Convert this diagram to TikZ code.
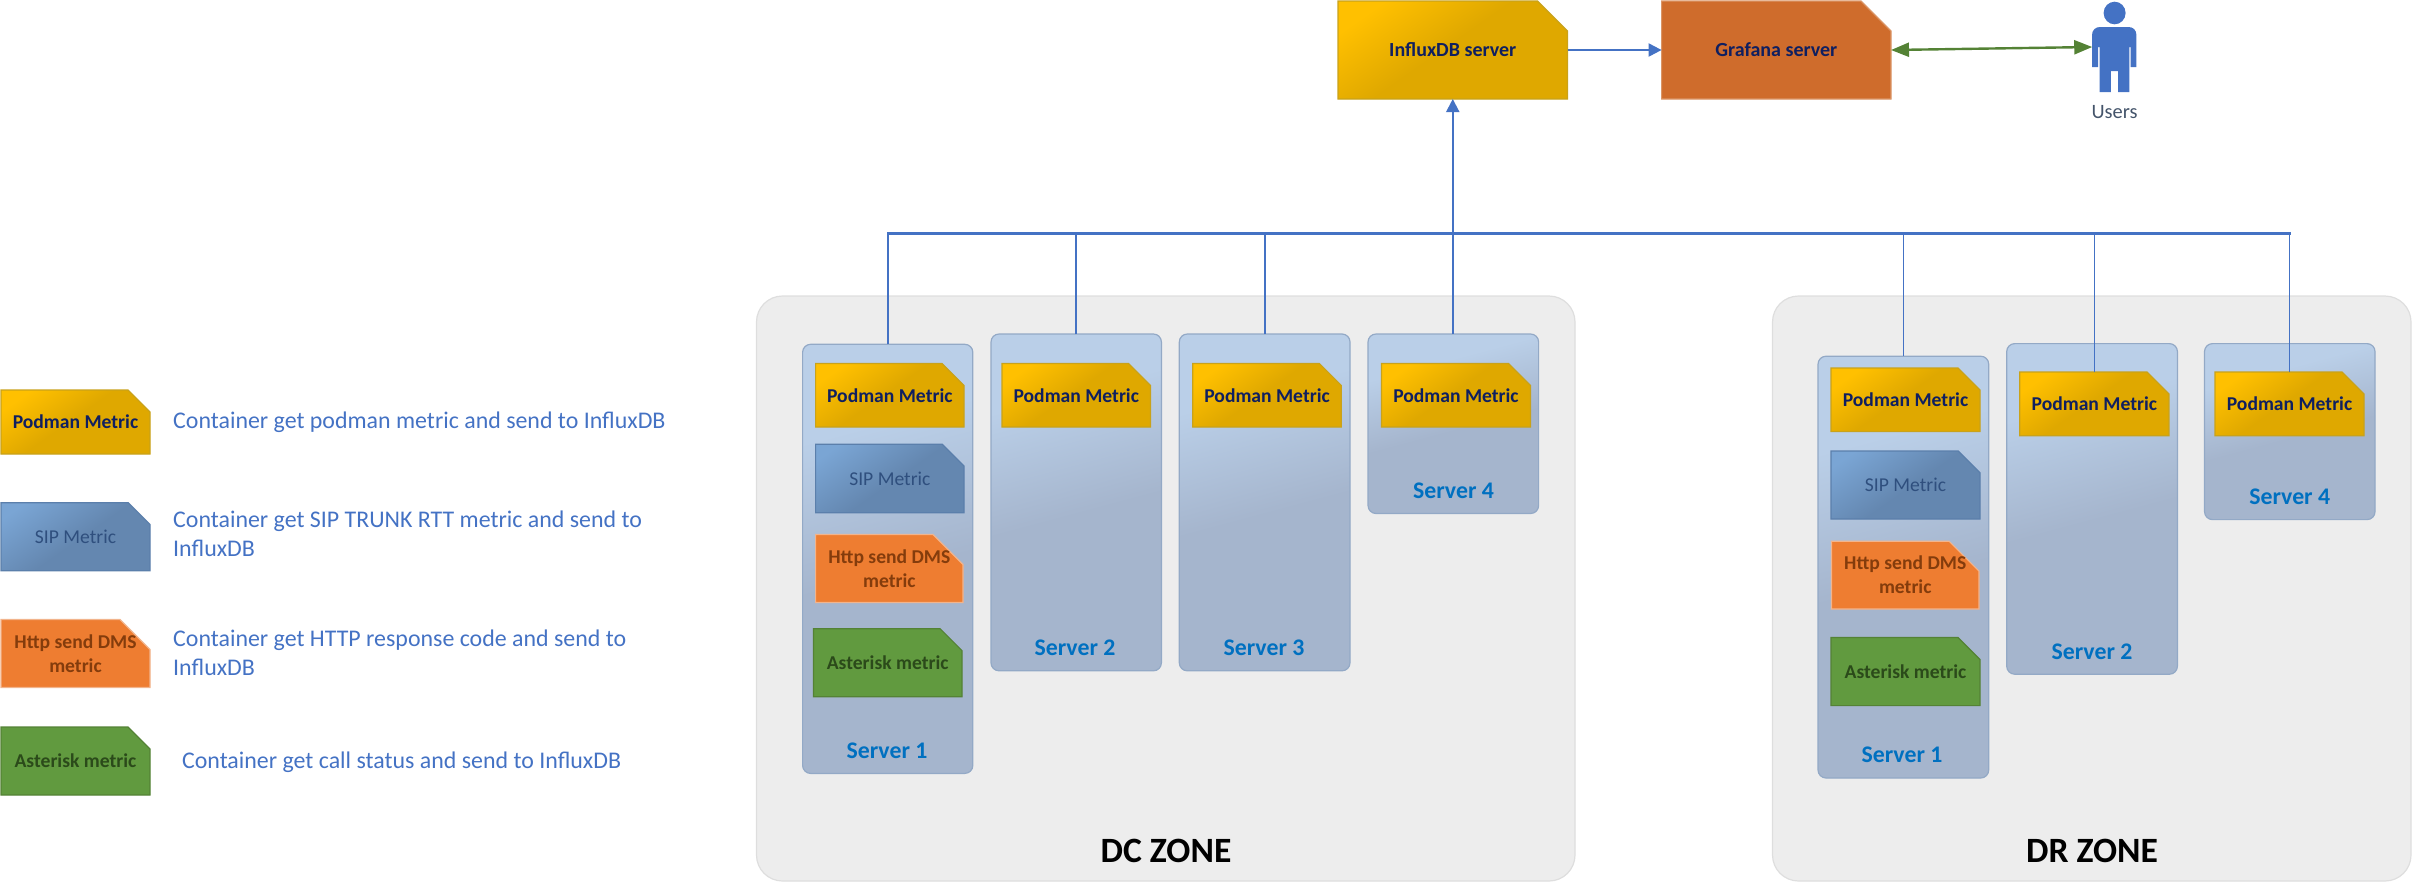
\documentclass[tikz,border=0pt]{standalone}
\usepackage{fontspec}
\setmainfont{Carlito}
\usetikzlibrary{shapes.misc,arrows.meta}
\definecolor{goldA}{HTML}{FFC000}\definecolor{goldB}{HTML}{DFA800}\definecolor{goldL}{HTML}{C9A21A}
\definecolor{sipA}{HTML}{7AA5D4}\definecolor{sipB}{HTML}{6487B0}\definecolor{sipL}{HTML}{5B7FAB}
\definecolor{srvA}{HTML}{BACFE8}\definecolor{srvB}{HTML}{A5B5CD}\definecolor{srvL}{HTML}{93A9C6}
\definecolor{orangeF}{HTML}{EE7D31}\definecolor{orangeL}{HTML}{F2B48C}
\definecolor{greenF}{HTML}{619A3F}\definecolor{greenL}{HTML}{548235}
\definecolor{grafF}{HTML}{CF6C2C}\definecolor{grafL}{HTML}{DB9566}
\definecolor{zoneF}{HTML}{EDEDED}\definecolor{zoneL}{HTML}{DEDEDE}
\definecolor{link}{HTML}{4472C4}\definecolor{duplex}{HTML}{548235}
\definecolor{navy}{HTML}{0F1F60}\definecolor{sipT}{HTML}{2F4F7E}\definecolor{httpT}{HTML}{843C0C}\definecolor{astT}{HTML}{2B4A1A}
\definecolor{srvT}{HTML}{0070C0}\definecolor{userT}{HTML}{44546A}
\pgfdeclareverticalshading{goldsh}{100bp}{color(0bp)=(goldB); color(52bp)=(goldB); color(76bp)=(goldA); color(100bp)=(goldA)}
\pgfdeclareverticalshading{sipsh}{100bp}{color(0bp)=(sipB); color(48bp)=(sipB); color(78bp)=(sipA); color(100bp)=(sipA)}
\pgfdeclareverticalshading{srvsh}{100bp}{color(0bp)=(srvB); color(48bp)=(srvB); color(68bp)=(srvA); color(100bp)=(srvA)}
\tikzset{
  base/.style={chamfered rectangle,chamfered rectangle corners=north east,chamfered rectangle xsep=7.5pt,chamfered rectangle ysep=7.5pt,inner sep=0pt,outer sep=0pt,line width=.6pt,align=center,font=\fontsize{9.8}{12}\selectfont},
  podman/.style={base,draw=goldL,shading=goldsh,shading angle=35,text=navy,font=\fontsize{9.8}{12}\selectfont\bfseries},
  sipm/.style={base,draw=sipL,shading=sipsh,shading angle=35,text=sipT},
  httpm/.style={base,draw=orangeL,fill=orangeF,text=httpT,font=\fontsize{9.8}{12}\selectfont\bfseries},
  astm/.style={base,draw=greenL,fill=greenF,text=astT,font=\fontsize{9.8}{12}\selectfont\bfseries},
  influxm/.style={podman,chamfered rectangle xsep=11pt,chamfered rectangle ysep=11.5pt,font=\fontsize{10}{12}\selectfont\bfseries},
  grafm/.style={base,draw=grafL,fill=grafF,text=navy,chamfered rectangle xsep=11pt,chamfered rectangle ysep=11.5pt,font=\fontsize{10}{12}\selectfont\bfseries},
  srv/.style={rectangle,rounded corners=4pt,draw=srvL,line width=.6pt,shading=srvsh,shading angle=15,inner sep=0pt,outer sep=0pt},
  zone/.style={rectangle,rounded corners=13pt,draw=zoneL,fill=zoneF,line width=.6pt,inner sep=0pt,outer sep=0pt},
  srvlabel/.style={text=srvT,font=\fontsize{11.9}{14}\selectfont\bfseries,inner sep=0pt},
  zonelabel/.style={text=black,font=\fontsize{17.8}{20}\selectfont\bfseries,inner sep=0pt},
  legendtext/.style={text=link,anchor=west,align=left,inner sep=0pt,font=\fontsize{11.95}{14.3}\selectfont},
  userlabel/.style={text=userT,inner sep=0pt,font=\fontsize{10.2}{12}\selectfont},
  wire/.style={draw=link,line width=.85pt},
  busline/.style={draw=link,line width=1.1pt,line cap=rect},
  flow/.style={draw=link,line width=1pt,-{Triangle[length=6.5pt,width=6.5pt]}},
  duplexline/.style={draw=duplex,line width=1.2pt,{Triangle[length=9pt,width=7pt]}-{Triangle[length=9pt,width=7pt]}},
}
% #1 style, #2 name, #3 x1, #4 y1, #5 x2, #6 y2, #7 text
\newcommand{\placebox}[7]{\node[#1,minimum width={(#5-#3)*0.5pt},minimum height={(#6-#4)*0.5pt}] (#2) at ({(#3+#5)/2},{(#4+#6)/2}) {#7};}
\newcommand{\httptext}{\makebox[0pt][c]{Http send DMS}\\metric}
\begin{document}
\begin{tikzpicture}[x=0.5pt,y=-0.5pt]
\useasboundingbox (0,0) rectangle (2412,890);
% zones
\placebox{zone}{dczone}{756.5}{296}{1575}{881}{}
\placebox{zone}{drzone}{1772.5}{296}{2411}{881}{}
\node[zonelabel] (dctitle) at (1166,851) {DC ZONE};
\node[zonelabel] (drtitle) at (2092,851) {DR ZONE};
% DC servers
\placebox{srv}{dcs1}{802.6}{344.3}{972.8}{773.4}{}
\placebox{srv}{dcs2}{991}{334}{1161.4}{670.8}{}
\placebox{srv}{dcs3}{1179.3}{334}{1350}{670.8}{}
\placebox{srv}{dcs4}{1368}{334}{1538.6}{513.5}{}
\node[srvlabel] (dcl1) at (887,751) {Server 1};
\node[srvlabel] (dcl2) at (1075,648) {Server 2};
\node[srvlabel] (dcl3) at (1264,648) {Server 3};
\node[srvlabel] (dcl4) at (1453.5,491) {Server 4};
% DR servers
\placebox{srv}{drs1}{1818}{356.2}{1988.7}{778}{}
\placebox{srv}{drs2}{2006.7}{343.6}{2177.4}{674.2}{}
\placebox{srv}{drs4}{2204.5}{343.6}{2375}{519.6}{}
\node[srvlabel] (drl1) at (1902,755) {Server 1};
\node[srvlabel] (drl2) at (2092,652) {Server 2};
\node[srvlabel] (drl4) at (2289.7,497) {Server 4};
% top servers
\placebox{influxm}{influx}{1338}{1}{1567.5}{99}{InfluxDB server}
\placebox{grafm}{grafana}{1661.6}{1}{1891}{99}{Grafana server}
% DC metrics
\placebox{podman}{dcp1}{815.6}{363.5}{964}{427}{Podman Metric}
\placebox{sipm}{dcsip}{815.6}{444.2}{964}{512.7}{SIP Metric}
\placebox{httpm}{dchttp}{815.6}{535}{963}{602}{\httptext}
\placebox{astm}{dcast}{813.4}{628.7}{962}{696.8}{Asterisk metric}
\placebox{podman}{dcp2}{1002}{363.5}{1150.5}{427}{Podman Metric}
\placebox{podman}{dcp3}{1192.8}{363.5}{1341.3}{427}{Podman Metric}
\placebox{podman}{dcp4}{1381.4}{363.5}{1530.5}{427}{Podman Metric}
% DR metrics
\placebox{podman}{drp1}{1831}{368}{1980}{431.6}{Podman Metric}
\placebox{sipm}{drsip}{1831}{451}{1980}{519}{SIP Metric}
\placebox{httpm}{drhttp}{1831.5}{541.8}{1979}{608.4}{\httptext}
\placebox{astm}{drast}{1831}{637.5}{1980}{705.6}{Asterisk metric}
\placebox{podman}{drp2}{2019.8}{372}{2168.9}{435.8}{Podman Metric}
\placebox{podman}{drp4}{2215}{372}{2364}{435.8}{Podman Metric}
% legend
\placebox{podman}{lgp}{1}{390}{150}{454}{Podman Metric}
\placebox{sipm}{lgs}{1}{502.7}{150}{570.7}{SIP Metric}
\placebox{httpm}{lgh}{1}{620}{150}{687}{\httptext}
\placebox{astm}{lga}{1}{727}{150}{795}{Asterisk metric}
\node[legendtext] (lgpt) at (172.8,422.5) {Container get podman metric and send to InfluxDB};
\node[legendtext] (lgst) at (172.8,534) {Container get SIP TRUNK RTT metric and send to\\InfluxDB};
\node[legendtext] (lght) at (172.8,653) {Container get HTTP response code and send to\\InfluxDB};
\node[legendtext] (lgat) at (181.7,762.5) {Container get call status and send to InfluxDB};
% user
\node[inner sep=0pt,outer sep=0pt,minimum width=22pt,minimum height=45pt] (user) at (2114.2,47) {};
\fill[link] (2114.6,13) ellipse [x radius=11,y radius=11.3];
\fill[link] (2100,27) -- (2128.5,27) .. controls (2133,27) and (2136.4,30) .. (2136.4,35) -- (2136.4,67) -- (2130.5,67) -- (2130.5,47) -- (2129.3,47) -- (2129.3,92) -- (2118.2,92) -- (2118.2,71) -- (2110.8,71) -- (2110.8,92) -- (2099.6,92) -- (2099.6,47) -- (2098.2,47) -- (2098.2,67) -- (2092,67) -- (2092,35) .. controls (2092,30) and (2095.5,27) .. (2100,27) -- cycle;
\node[userlabel] (userl) at (2114.5,112) {Users};
% connectors
\coordinate (bus) at (1452.75,233.5);
\draw[wire] (dcs1.north) -- (dcs1.north |- bus);
\draw[wire] (dcs2.north) -- (dcs2.north |- bus);
\draw[wire] (dcs3.north) -- (dcs3.north |- bus);
\draw[wire] (dcs4.north) -- (dcs4.north |- bus);
\draw[wire] (drs1.north) -- (drs1.north |- bus);
\draw[wire] (drp2.north) -- (drp2.north |- bus);
\draw[wire] (drp4.north) -- (drp4.north |- bus);
\draw[busline] (dcs1.north |- bus) -- (drp4.north |- bus);
\draw[flow] (bus) -- (influx.south);
\draw[flow] (influx.east) -- (grafana.west);
\draw[duplexline] (grafana.east) -- (user.west);
\end{tikzpicture}
\end{document}
